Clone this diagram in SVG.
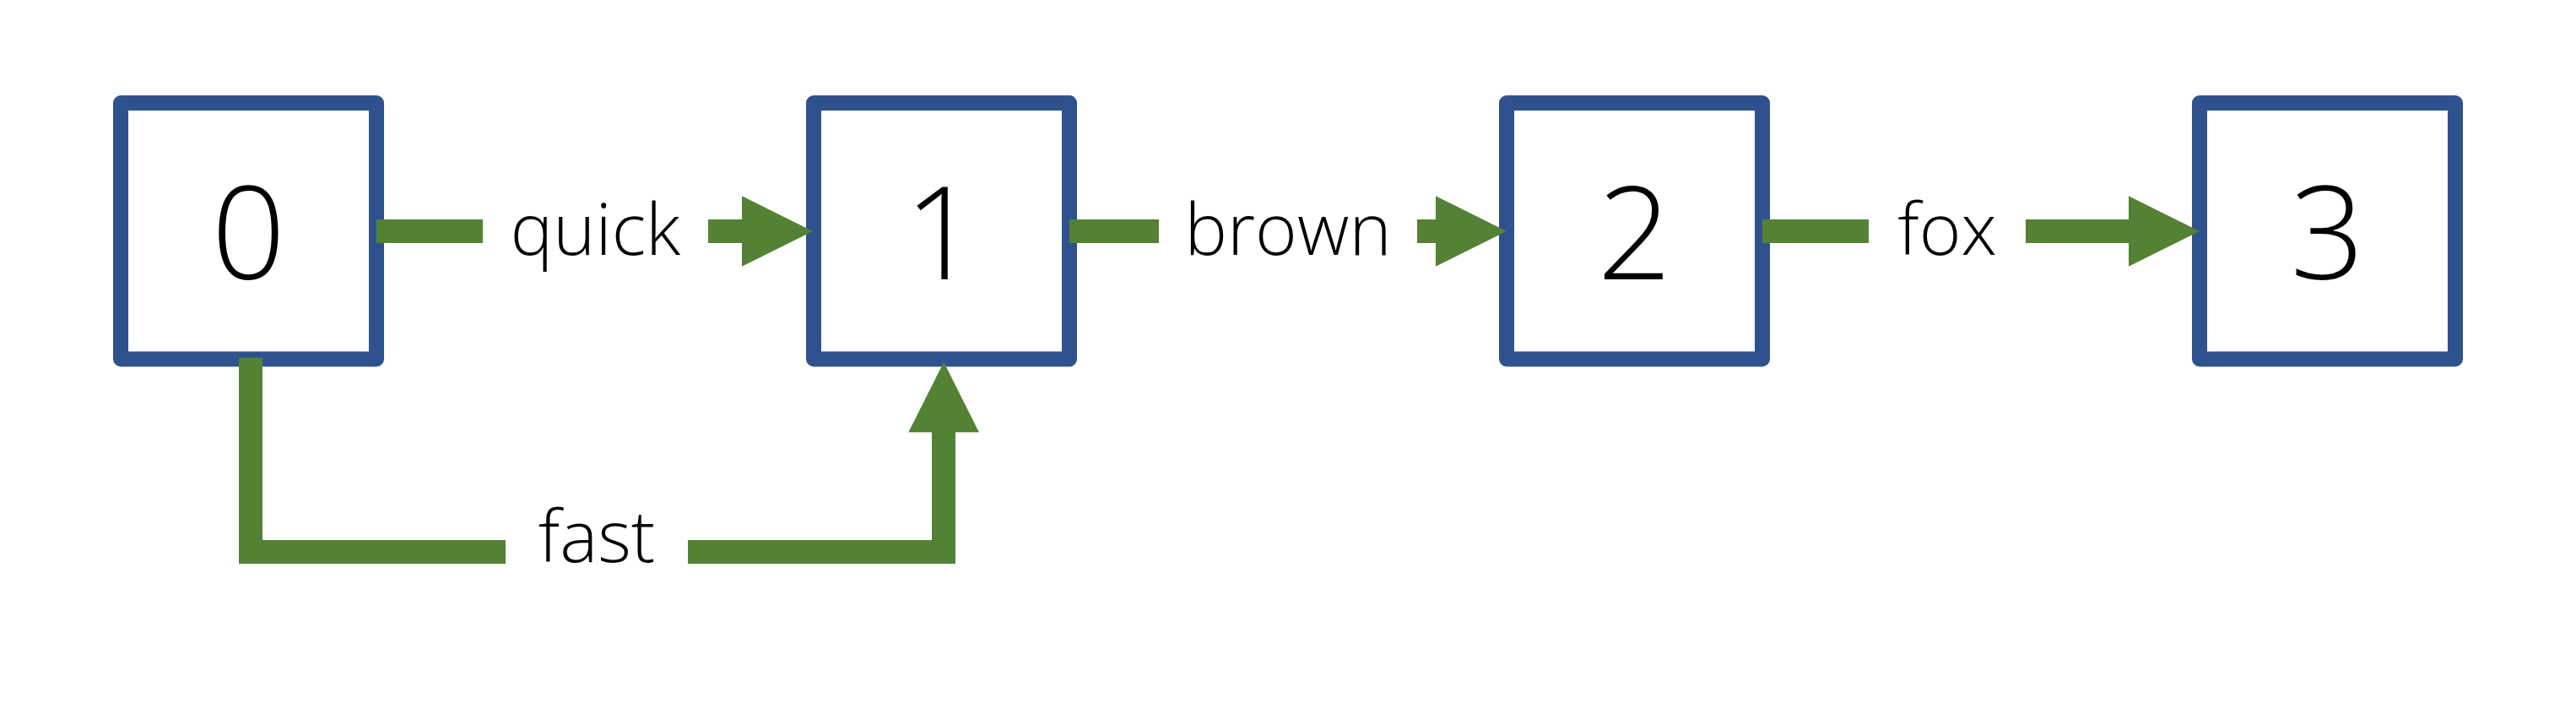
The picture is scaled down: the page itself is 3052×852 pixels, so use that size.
<svg xmlns="http://www.w3.org/2000/svg" width="3052" height="852" viewBox="0 0 3052 852">
  <style>
    .box { fill: #ffffff; stroke: #2F528F; stroke-width: 18; stroke-linejoin: round; }
    .num { font-family: "Open Sans", "Noto Sans", "Liberation Sans", sans-serif; font-weight: 300; font-size: 154px; fill: #000000; text-anchor: middle; }
    .lbl { font-family: "Open Sans", "Noto Sans", "Liberation Sans", sans-serif; font-weight: 300; font-size: 85px; fill: #000000; text-anchor: middle; }
    .edge { fill: none; stroke: #548235; stroke-width: 28; stroke-linejoin: miter; stroke-linecap: butt; }
    .head { fill: #548235; }
  </style>
  <rect width="3052" height="852" fill="#ffffff"/>
  <g id="node-0">
    <rect class="box" x="143" y="122" width="303" height="303.5"/>
    <text class="num" x="294.5" y="330.5">0</text>
  </g>
  <g id="node-1">
    <rect class="box" x="964" y="122" width="303" height="303.5"/>
    <text class="num" x="1115.5" y="330.5">1</text>
  </g>
  <g id="node-2">
    <rect class="box" x="1785" y="122" width="303" height="303.5"/>
    <text class="num" x="1936.5" y="330.5">2</text>
  </g>
  <g id="node-3">
    <rect class="box" x="2606" y="122" width="303" height="303.5"/>
    <text class="num" x="2757.5" y="330.5">3</text>
  </g>
  <g id="connectors">
    <g id="edge-quick">
      <path class="edge" d="M446,274 H572"/>
      <path class="edge" d="M839,274 H880"/>
      <polygon class="head" points="879,232.3 963,274 879,315.7"/>
      <text class="lbl" x="705.5" y="301.5">quick</text>
    </g>
    <g id="edge-brown">
      <path class="edge" d="M1267,274 H1373"/>
      <path class="edge" d="M1679,274 H1702"/>
      <polygon class="head" points="1701,232.3 1785,274 1701,315.7"/>
      <text class="lbl" x="1526" y="301.5">brown</text>
    </g>
    <g id="edge-fox">
      <path class="edge" d="M2088,274 H2214"/>
      <path class="edge" d="M2400,274 H2523"/>
      <polygon class="head" points="2522,232.3 2606,274 2522,315.7"/>
      <text class="lbl" x="2307" y="301.5">fox</text>
    </g>
    <g id="edge-fast">
      <path class="edge" d="M297,424 V654 H599"/>
      <path class="edge" d="M815,654 H1118 V511"/>
      <polygon class="head" points="1076.3,512.3 1160,512.3 1118.2,429"/>
      <text class="lbl" x="707" y="666">fast</text>
    </g>
  </g>
</svg>
